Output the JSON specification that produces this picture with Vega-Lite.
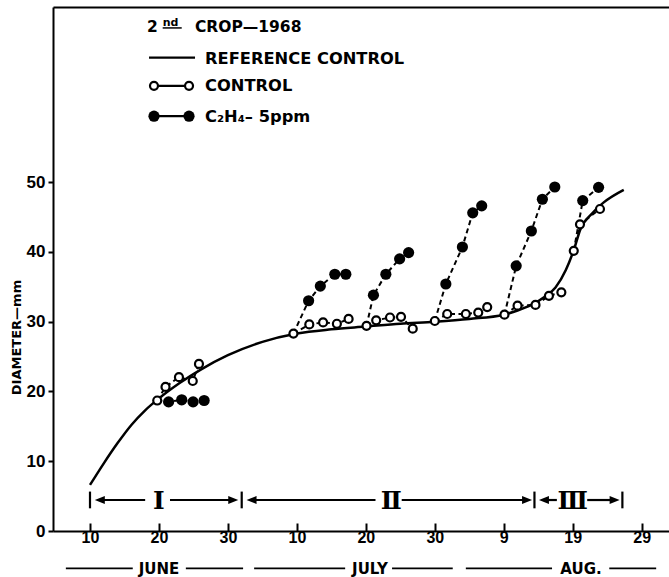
{
  "$schema": "https://vega.github.io/schema/vega-lite/v6.json",
  "width": 616,
  "height": 524,
  "autosize": {"type": "none"},
  "padding": {"left": 53, "top": 7, "right": 0, "bottom": 46},
  "background": "white",
  "config": {
    "view": {"stroke": null},
    "axis": {"grid": false, "domainColor": "black", "tickColor": "black", "labelColor": "black", "titleColor": "black"},
    "text": {"font": "DejaVu Sans", "fontWeight": "bold", "color": "black"}
  },
  "resolve": {"axis": {"x": "independent", "y": "independent"}},
  "datasets": {
    "reference": [
      {"day": 10, "mm": 6.6}, {"day": 12, "mm": 9.7}, {"day": 14, "mm": 12.6}, {"day": 16, "mm": 15.2},
      {"day": 18, "mm": 17.3}, {"day": 20, "mm": 19.0}, {"day": 23, "mm": 21.2}, {"day": 26, "mm": 23.1},
      {"day": 30, "mm": 25.2}, {"day": 35, "mm": 27.1}, {"day": 40, "mm": 28.3}, {"day": 45, "mm": 28.9},
      {"day": 50, "mm": 29.3}, {"day": 55, "mm": 29.7}, {"day": 60, "mm": 30.0}, {"day": 65, "mm": 30.4},
      {"day": 70, "mm": 31.0}, {"day": 72, "mm": 31.6}, {"day": 74, "mm": 32.4}, {"day": 76, "mm": 33.6},
      {"day": 77.5, "mm": 34.9}, {"day": 79, "mm": 37.4}, {"day": 80.2, "mm": 40.4}, {"day": 81.1, "mm": 43.2},
      {"day": 82.8, "mm": 45.5}, {"day": 84.5, "mm": 47.1}, {"day": 87.4, "mm": 48.9}
    ],
    "control": [
      {"day": 19.75, "mm": 18.7}, {"day": 20.95, "mm": 20.65}, {"day": 22.9, "mm": 22.05}, {"day": 24.9, "mm": 21.5}, {"day": 25.8, "mm": 23.95},
      {"day": 39.5, "mm": 28.3}, {"day": 41.8, "mm": 29.6}, {"day": 43.8, "mm": 29.9}, {"day": 45.8, "mm": 29.7}, {"day": 47.5, "mm": 30.4},
      {"day": 50.1, "mm": 29.4}, {"day": 51.5, "mm": 30.2}, {"day": 53.5, "mm": 30.6}, {"day": 55.1, "mm": 30.7}, {"day": 56.8, "mm": 29.0},
      {"day": 60.0, "mm": 30.1}, {"day": 61.8, "mm": 31.1}, {"day": 64.5, "mm": 31.1}, {"day": 66.3, "mm": 31.3}, {"day": 67.6, "mm": 32.1},
      {"day": 70.1, "mm": 31.0}, {"day": 72.0, "mm": 32.3}, {"day": 74.6, "mm": 32.4}, {"day": 76.55, "mm": 33.7}, {"day": 78.35, "mm": 34.2},
      {"day": 80.15, "mm": 40.15}, {"day": 81.05, "mm": 43.95}, {"day": 83.95, "mm": 46.15}
    ],
    "ethylene": [
      {"day": 21.4, "mm": 18.5}, {"day": 23.3, "mm": 18.8}, {"day": 24.95, "mm": 18.5}, {"day": 26.55, "mm": 18.7},
      {"day": 41.7, "mm": 33.0}, {"day": 43.4, "mm": 35.1}, {"day": 45.5, "mm": 36.8}, {"day": 47.1, "mm": 36.8},
      {"day": 51.1, "mm": 33.8}, {"day": 52.9, "mm": 36.8}, {"day": 54.9, "mm": 39.0}, {"day": 56.2, "mm": 39.9},
      {"day": 61.6, "mm": 35.4}, {"day": 64.0, "mm": 40.7}, {"day": 65.5, "mm": 45.6}, {"day": 66.8, "mm": 46.6},
      {"day": 71.8, "mm": 38.0}, {"day": 74.0, "mm": 43.0}, {"day": 75.6, "mm": 47.55}, {"day": 77.4, "mm": 49.3},
      {"day": 81.45, "mm": 47.35}, {"day": 83.75, "mm": 49.25}
    ],
    "links": [
      {"grp": "C0", "seq": 1, "day": 19.75, "mm": 18.7}, {"grp": "C0", "seq": 2, "day": 20.95, "mm": 20.65}, {"grp": "C0", "seq": 3, "day": 22.9, "mm": 22.05}, {"grp": "C0", "seq": 4, "day": 24.9, "mm": 21.5}, {"grp": "C0", "seq": 5, "day": 25.8, "mm": 23.95},
      {"grp": "C1", "seq": 1, "day": 39.5, "mm": 28.3}, {"grp": "C1", "seq": 2, "day": 41.8, "mm": 29.6}, {"grp": "C1", "seq": 3, "day": 43.8, "mm": 29.9}, {"grp": "C1", "seq": 4, "day": 45.8, "mm": 29.7}, {"grp": "C1", "seq": 5, "day": 47.5, "mm": 30.4},
      {"grp": "C2", "seq": 1, "day": 50.1, "mm": 29.4}, {"grp": "C2", "seq": 2, "day": 51.5, "mm": 30.2}, {"grp": "C2", "seq": 3, "day": 53.5, "mm": 30.6}, {"grp": "C2", "seq": 4, "day": 55.1, "mm": 30.7}, {"grp": "C2", "seq": 5, "day": 56.8, "mm": 29.0},
      {"grp": "C3", "seq": 1, "day": 60.0, "mm": 30.1}, {"grp": "C3", "seq": 2, "day": 61.8, "mm": 31.1}, {"grp": "C3", "seq": 3, "day": 64.5, "mm": 31.1}, {"grp": "C3", "seq": 4, "day": 66.3, "mm": 31.3}, {"grp": "C3", "seq": 5, "day": 67.6, "mm": 32.1},
      {"grp": "C4", "seq": 1, "day": 70.1, "mm": 31.0}, {"grp": "C4", "seq": 2, "day": 72.0, "mm": 32.3}, {"grp": "C4", "seq": 3, "day": 74.6, "mm": 32.4}, {"grp": "C4", "seq": 4, "day": 76.55, "mm": 33.7}, {"grp": "C4", "seq": 5, "day": 78.35, "mm": 34.2},
      {"grp": "C5", "seq": 1, "day": 80.15, "mm": 40.15}, {"grp": "C5", "seq": 2, "day": 81.05, "mm": 43.95}, {"grp": "C5", "seq": 3, "day": 83.95, "mm": 46.15},
      {"grp": "E0", "seq": 1, "day": 19.75, "mm": 18.7}, {"grp": "E0", "seq": 2, "day": 21.4, "mm": 18.5}, {"grp": "E0", "seq": 3, "day": 23.3, "mm": 18.8}, {"grp": "E0", "seq": 4, "day": 24.95, "mm": 18.5}, {"grp": "E0", "seq": 5, "day": 26.55, "mm": 18.7},
      {"grp": "E1", "seq": 1, "day": 39.5, "mm": 28.3}, {"grp": "E1", "seq": 2, "day": 41.7, "mm": 33.0}, {"grp": "E1", "seq": 3, "day": 43.4, "mm": 35.1}, {"grp": "E1", "seq": 4, "day": 45.5, "mm": 36.8}, {"grp": "E1", "seq": 5, "day": 47.1, "mm": 36.8},
      {"grp": "E2", "seq": 1, "day": 50.1, "mm": 29.4}, {"grp": "E2", "seq": 2, "day": 51.1, "mm": 33.8}, {"grp": "E2", "seq": 3, "day": 52.9, "mm": 36.8}, {"grp": "E2", "seq": 4, "day": 54.9, "mm": 39.0}, {"grp": "E2", "seq": 5, "day": 56.2, "mm": 39.9},
      {"grp": "E3", "seq": 1, "day": 60.0, "mm": 30.1}, {"grp": "E3", "seq": 2, "day": 61.6, "mm": 35.4}, {"grp": "E3", "seq": 3, "day": 64.0, "mm": 40.7}, {"grp": "E3", "seq": 4, "day": 65.5, "mm": 45.6}, {"grp": "E3", "seq": 5, "day": 66.8, "mm": 46.6},
      {"grp": "E4", "seq": 1, "day": 70.1, "mm": 31.0}, {"grp": "E4", "seq": 2, "day": 71.8, "mm": 38.0}, {"grp": "E4", "seq": 3, "day": 74.0, "mm": 43.0}, {"grp": "E4", "seq": 4, "day": 75.6, "mm": 47.55}, {"grp": "E4", "seq": 5, "day": 77.4, "mm": 49.3},
      {"grp": "E5", "seq": 1, "day": 80.15, "mm": 40.15}, {"grp": "E5", "seq": 2, "day": 81.45, "mm": 47.35}, {"grp": "E5", "seq": 3, "day": 83.75, "mm": 49.25}
    ],
    "legendRules": [
      {"d1": 18.56, "d2": 25.23, "v": 67.85, "kind": "reference"},
      {"d1": 19.28, "d2": 24.36, "v": 63.8, "kind": "control"},
      {"d1": 19.28, "d2": 24.36, "v": 59.45, "kind": "ethylene"}
    ],
    "legendOpen": [{"d": 19.28, "v": 63.8}, {"d": 24.36, "v": 63.8}],
    "legendFilled": [{"d": 19.28, "v": 59.45}, {"d": 24.36, "v": 59.45}],
    "legendText": [
      {"d": 26.68, "v": 67.7, "t": "REFERENCE CONTROL"},
      {"d": 26.68, "v": 63.8, "t": "CONTROL"},
      {"d": 26.68, "v": 59.35, "t": "C₂H₄– 5ppm"}
    ],
    "titleText": [
      {"d": 18.27, "v": 72.19, "t": "2"},
      {"d": 25.22, "v": 72.19, "t": "CROP—1968"}
    ],
    "periodRules": [
      {"d1": 10, "d2": 10, "v1": 3.25, "v2": 5.65},
      {"d1": 32, "d2": 32, "v1": 3.25, "v2": 5.65},
      {"d1": 74.45, "d2": 74.45, "v1": 3.25, "v2": 5.65},
      {"d1": 87.2, "d2": 87.2, "v1": 3.25, "v2": 5.65},
      {"d1": 11.5, "d2": 18.0, "v1": 4.44, "v2": 4.44},
      {"d1": 21.6, "d2": 30.7, "v1": 4.44, "v2": 4.44},
      {"d1": 33.5, "d2": 51.4, "v1": 4.44, "v2": 4.44},
      {"d1": 55.2, "d2": 73.3, "v1": 4.44, "v2": 4.44},
      {"d1": 75.9, "d2": 77.7, "v1": 4.44, "v2": 4.44},
      {"d1": 82.1, "d2": 86.0, "v1": 4.44, "v2": 4.44}
    ],
    "arrows": [
      {"d": 10.7, "v": 4.44, "dir": "left"}, {"d": 31.5, "v": 4.44, "dir": "right"},
      {"d": 32.7, "v": 4.44, "dir": "left"}, {"d": 74.1, "v": 4.44, "dir": "right"},
      {"d": 75.1, "v": 4.44, "dir": "left"}, {"d": 86.8, "v": 4.44, "dir": "right"}
    ],
    "periodLabels": [
      {"d": 20.0, "v": 4.3, "t": "Ⅰ"},
      {"d": 53.7, "v": 4.3, "t": "Ⅱ"},
      {"d": 80.0, "v": 4.3, "t": "Ⅲ"}
    ],
    "monthRules": [
      {"d1": 6.5, "d2": 16.2, "v": -5.35}, {"d1": 23.9, "d2": 32.2, "v": -5.35},
      {"d1": 33.8, "d2": 47.0, "v": -5.35}, {"d1": 53.8, "d2": 62.6, "v": -5.35},
      {"d1": 64.5, "d2": 77.0, "v": -5.35}, {"d1": 85.3, "d2": 92.1, "v": -5.35}
    ],
    "monthLabels": [
      {"d": 20.0, "v": -5.4, "t": "JUNE"},
      {"d": 50.6, "v": -5.4, "t": "JULY"},
      {"d": 81.2, "v": -5.4, "t": "AUG."}
    ]
  },
  "layer": [
    {
      "data": {"name": "reference"},
      "mark": {"type": "line", "color": "black", "strokeWidth": 2.5, "interpolate": "monotone"},
      "encoding": {
        "x": {
          "field": "day", "type": "quantitative",
          "scale": {"domain": [4.635, 93.96], "nice": false, "zero": false},
          "axis": {
            "orient": "bottom", "values": [10, 20, 30, 40, 50, 60, 70, 80, 90],
            "labelExpr": "datum.value <= 30 ? datum.value : (datum.value <= 61 ? datum.value - 30 : datum.value - 61)",
            "tickSize": -8, "tickWidth": 2, "domainWidth": 2, "labelPadding": 6,
            "labelFont": "Liberation Sans", "labelFontWeight": "bold", "labelFontSize": 16,
            "labelOverlap": false, "labelFlush": false, "title": null
          }
        },
        "y": {
          "field": "mm", "type": "quantitative",
          "scale": {"domain": [0, 75.1], "nice": false},
          "axis": {
            "orient": "left", "values": [0, 10, 20, 30, 40, 50],
            "tickSize": 5, "tickWidth": 2, "domainWidth": 2, "labelPadding": 3,
            "labelFont": "Liberation Sans", "labelFontWeight": "bold", "labelFontSize": 17,
            "title": "DIAMETER—mm", "titleFont": "DejaVu Sans", "titleFontWeight": "bold", "titleFontSize": 13,
            "titleX": -37, "titleY": 330, "titleAngle": -90, "titleAlign": "center", "titleBaseline": "middle"
          }
        }
      }
    },
    {
      "data": {"name": "links"},
      "mark": {"type": "line", "color": "black", "strokeWidth": 2, "strokeDash": [5, 3.5]},
      "encoding": {
        "x": {"field": "day", "type": "quantitative", "axis": {"orient": "top", "labels": false, "ticks": false, "title": null, "domainWidth": 2}},
        "y": {"field": "mm", "type": "quantitative", "axis": null},
        "detail": {"field": "grp"},
        "order": {"field": "seq"}
      }
    },
    {
      "data": {"name": "ethylene"},
      "mark": {"type": "circle", "color": "black", "size": 125, "opacity": 1},
      "encoding": {
        "x": {"field": "day", "type": "quantitative", "axis": null},
        "y": {"field": "mm", "type": "quantitative", "axis": null}
      }
    },
    {
      "data": {"name": "control"},
      "mark": {"type": "point", "shape": "circle", "filled": true, "fill": "white", "stroke": "black", "strokeWidth": 2.2, "size": 64, "opacity": 1},
      "encoding": {
        "x": {"field": "day", "type": "quantitative", "axis": null},
        "y": {"field": "mm", "type": "quantitative", "axis": null}
      }
    },
    {
      "data": {"name": "legendRules"},
      "mark": {"type": "rule", "color": "black", "strokeWidth": 2.2},
      "encoding": {
        "x": {"field": "d1", "type": "quantitative", "axis": null},
        "x2": {"field": "d2"},
        "y": {"field": "v", "type": "quantitative", "axis": null}
      }
    },
    {
      "data": {"name": "legendFilled"},
      "mark": {"type": "circle", "color": "black", "size": 125, "opacity": 1},
      "encoding": {
        "x": {"field": "d", "type": "quantitative", "axis": null},
        "y": {"field": "v", "type": "quantitative", "axis": null}
      }
    },
    {
      "data": {"name": "legendOpen"},
      "mark": {"type": "point", "shape": "circle", "filled": true, "fill": "white", "stroke": "black", "strokeWidth": 2.2, "size": 64, "opacity": 1},
      "encoding": {
        "x": {"field": "d", "type": "quantitative", "axis": null},
        "y": {"field": "v", "type": "quantitative", "axis": null}
      }
    },
    {
      "data": {"name": "legendText"},
      "mark": {"type": "text", "align": "left", "baseline": "middle", "fontSize": 16.3},
      "encoding": {
        "x": {"field": "d", "type": "quantitative", "axis": null},
        "y": {"field": "v", "type": "quantitative", "axis": null},
        "text": {"field": "t"}
      }
    },
    {
      "data": {"name": "titleText"},
      "mark": {"type": "text", "align": "left", "baseline": "middle", "fontSize": 15.5},
      "encoding": {
        "x": {"field": "d", "type": "quantitative", "axis": null},
        "y": {"field": "v", "type": "quantitative", "axis": null},
        "text": {"field": "t"}
      }
    },
    {
      "data": {"values": [{"d": 20.54, "v": 72.85, "t": "nd"}]},
      "mark": {"type": "text", "align": "left", "baseline": "middle", "fontSize": 11},
      "encoding": {
        "x": {"field": "d", "type": "quantitative", "axis": null},
        "y": {"field": "v", "type": "quantitative", "axis": null},
        "text": {"field": "t"}
      }
    },
    {
      "data": {"values": [{"d1": 20.54, "d2": 23.3, "v": 72.1}]},
      "mark": {"type": "rule", "color": "black", "strokeWidth": 1.5},
      "encoding": {
        "x": {"field": "d1", "type": "quantitative", "axis": null},
        "x2": {"field": "d2"},
        "y": {"field": "v", "type": "quantitative", "axis": null}
      }
    },
    {
      "data": {"name": "periodRules"},
      "mark": {"type": "rule", "color": "black", "strokeWidth": 2.2},
      "encoding": {
        "x": {"field": "d1", "type": "quantitative", "axis": null},
        "x2": {"field": "d2"},
        "y": {"field": "v1", "type": "quantitative", "axis": null},
        "y2": {"field": "v2"}
      }
    },
    {
      "data": {"name": "arrows"},
      "mark": {"type": "point", "filled": true, "color": "black", "size": 64, "opacity": 1},
      "encoding": {
        "x": {"field": "d", "type": "quantitative", "axis": null},
        "y": {"field": "v", "type": "quantitative", "axis": null},
        "shape": {"field": "dir", "type": "nominal", "scale": {"domain": ["left", "right"], "range": ["M0,0L2.5,-1L2.5,1Z", "M0,0L-2.5,-1L-2.5,1Z"]}, "legend": null}
      }
    },
    {
      "data": {"name": "periodLabels"},
      "mark": {"type": "text", "align": "center", "baseline": "middle", "fontSize": 25, "font": "DejaVu Serif", "fontWeight": "bold"},
      "encoding": {
        "x": {"field": "d", "type": "quantitative", "axis": null},
        "y": {"field": "v", "type": "quantitative", "axis": null},
        "text": {"field": "t"}
      }
    },
    {
      "data": {"name": "monthRules"},
      "mark": {"type": "rule", "color": "black", "strokeWidth": 1.6},
      "encoding": {
        "x": {"field": "d1", "type": "quantitative", "axis": null},
        "x2": {"field": "d2"},
        "y": {"field": "v", "type": "quantitative", "axis": null}
      }
    },
    {
      "data": {"name": "monthLabels"},
      "mark": {"type": "text", "align": "center", "baseline": "middle", "fontSize": 15},
      "encoding": {
        "x": {"field": "d", "type": "quantitative", "axis": null},
        "y": {"field": "v", "type": "quantitative", "axis": null},
        "text": {"field": "t"}
      }
    }
  ]
}
